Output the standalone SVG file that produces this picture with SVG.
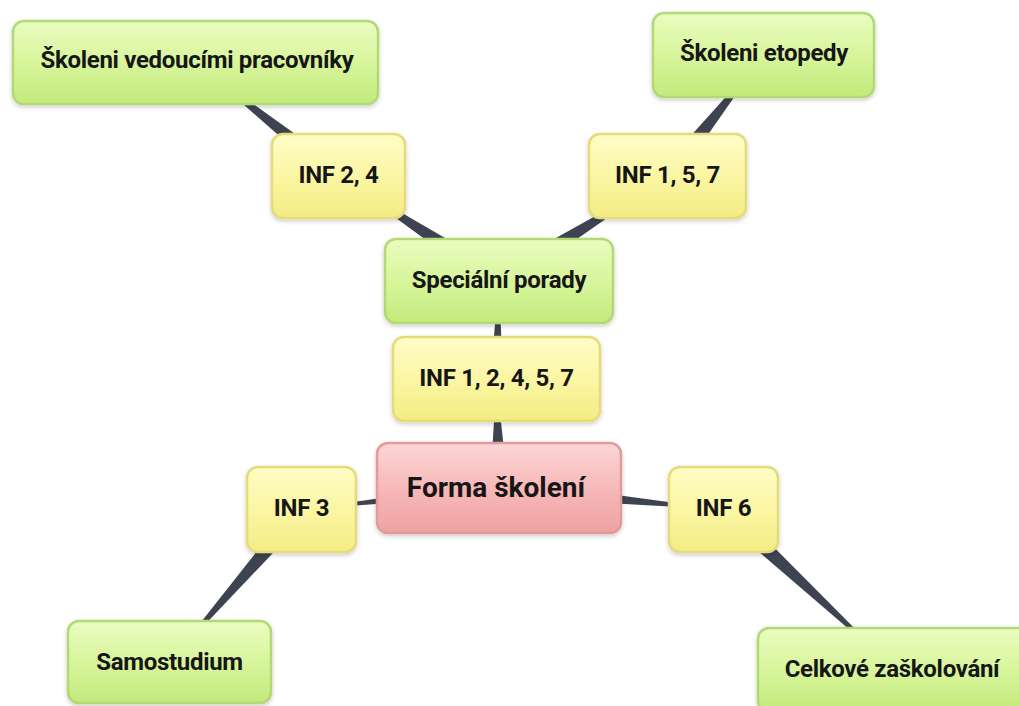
<svg xmlns="http://www.w3.org/2000/svg" width="1019" height="706" viewBox="0 0 1019 706">
<defs>
<linearGradient id="gGreen" x1="0" y1="0" x2="0" y2="1">
<stop offset="0" stop-color="#eafdc0"/>
<stop offset="0.5" stop-color="#d8f59c"/>
<stop offset="1" stop-color="#c3ea7c"/>
</linearGradient>
<linearGradient id="gYellow" x1="0" y1="0" x2="0" y2="1">
<stop offset="0" stop-color="#fffdc6"/>
<stop offset="0.5" stop-color="#fbf6a4"/>
<stop offset="1" stop-color="#f3ec84"/>
</linearGradient>
<linearGradient id="gPink" x1="0" y1="0" x2="0" y2="1">
<stop offset="0" stop-color="#fcd6d6"/>
<stop offset="0.5" stop-color="#f7b9b9"/>
<stop offset="1" stop-color="#efa2a2"/>
</linearGradient>
<filter id="sh" x="-10%" y="-10%" width="120%" height="130%">
<feDropShadow dx="0" dy="2" stdDeviation="2" flood-color="#000" flood-opacity="0.2"/>
</filter>
</defs>
<style>
.g{fill:url(#gGreen);stroke:#b2d974;stroke-width:2.5}
.y{fill:url(#gYellow);stroke:#e4dc7a;stroke-width:2.5}
.p{fill:url(#gPink);stroke:#e39a9a;stroke-width:2.5}
.n rect{filter:url(#sh)}
.t{font-family:Roboto,"Liberation Sans",sans-serif;font-weight:700;font-size:24px;letter-spacing:-0.3px;fill:#161616;text-anchor:middle;dominant-baseline:central}
.tb{font-size:28px;letter-spacing:0}
.w{fill:#3e4352}
</style>
<rect width="1019" height="706" fill="#ffffff"/>
<g id="connectors">
<polygon class="w" points="499,481 499,495 301.5,509.5"/>
<polygon class="w" points="499,479 499,497 723.5,509.5"/>
<polygon class="w" points="490,488 508,488 496.5,379"/>
<polygon class="w" points="490,379 503,379 499,281"/>
<polygon class="w" points="504.5,272.6 493.5,289.4 338.5,176"/>
<polygon class="w" points="504.3,289.5 493.7,272.5 667.5,176"/>
<polygon class="w" points="333,183 344,169 195.5,62.5"/>
<polygon class="w" points="660,170 675,182 763.5,55"/>
<polygon class="w" points="295,503 308,516 169.5,662"/>
<polygon class="w" points="730,503 717,516 893,667"/>
</g>
<g id="node-vedouci" class="n"><rect class="g" x="13" y="21" width="365" height="83" rx="11"/><text class="t" x="197" y="60">Školeni vedoucími pracovníky</text></g>
<g id="node-etopedy" class="n"><rect class="g" x="653" y="13" width="221" height="84" rx="11"/><text class="t" x="764" y="53">Školeni etopedy</text></g>
<g id="node-inf24" class="n"><rect class="y" x="272" y="134" width="133" height="84" rx="11"/><text class="t" x="338.5" y="175">INF 2, 4</text></g>
<g id="node-inf157" class="n"><rect class="y" x="589" y="134" width="157" height="84" rx="11"/><text class="t" x="667.5" y="175">INF 1, 5, 7</text></g>
<g id="node-porady" class="n"><rect class="g" x="385" y="239" width="228" height="84" rx="11"/><text class="t" x="499" y="280">Speciální porady</text></g>
<g id="node-inf12457" class="n"><rect class="y" x="393" y="337" width="207" height="84" rx="11"/><text class="t" x="496.5" y="378">INF 1, 2, 4, 5, 7</text></g>
<g id="node-forma" class="n"><rect class="p" x="377" y="443" width="244" height="90" rx="11"/><text class="t tb" x="496" y="487">Forma školení</text></g>
<g id="node-inf3" class="n"><rect class="y" x="247" y="467" width="109" height="85" rx="11"/><text class="t" x="301.5" y="508">INF 3</text></g>
<g id="node-inf6" class="n"><rect class="y" x="669" y="467" width="109" height="85" rx="11"/><text class="t" x="723.5" y="508">INF 6</text></g>
<g id="node-samostudium" class="n"><rect class="g" x="68" y="621" width="203" height="82" rx="11"/><text class="t" x="169.5" y="662">Samostudium</text></g>
<g id="node-celkove" class="n"><rect class="g" x="758" y="628" width="272" height="84" rx="11"/><text class="t" x="892" y="669">Celkové zaškolování</text></g>
</svg>
